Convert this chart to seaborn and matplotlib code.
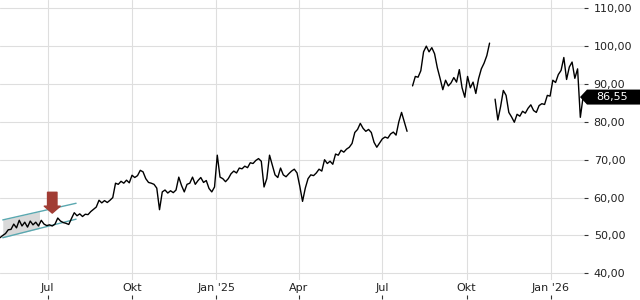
import numpy as np
import pandas as pd
import matplotlib
matplotlib.use("Agg")
import matplotlib.pyplot as plt
import matplotlib.dates as mdates
from matplotlib.patches import Polygon
from matplotlib.transforms import IdentityTransform
import seaborn as sns

nan = np.nan

# ---- data (one value every 3 calendar days) ----
start_date = "2024-05-10"
prices = [
    49.4, 50.0, 50.5, 51.5, 51.6, 53.0, 52.0, 54.0, 52.5, 53.5,
    52.2, 53.8, 52.8, 53.5, 52.5, 54.0, 53.0, 52.6, 52.8, 52.5,
    53.0, 54.6, 53.8, 53.4, 53.2, 52.9, 54.5, 56.0, 55.2, 55.7,
    55.0, 55.6, 55.5, 56.3, 56.9, 57.5, 59.3, 58.6, 59.2, 58.7,
    59.3, 60.0, 63.8, 63.5, 64.3, 63.8, 64.6, 63.9, 65.9, 65.3,
    65.8, 67.2, 66.8, 65.0, 64.0, 63.8, 63.5, 62.5, 56.8, 61.5,
    62.0, 61.2, 61.8, 61.3, 62.0, 65.4, 63.2, 61.5, 63.5, 63.8,
    65.4, 63.5, 64.5, 65.3, 64.0, 64.5, 62.4, 61.5, 62.8, 71.2,
    65.4, 65.0, 64.2, 65.0, 66.3, 67.0, 66.5, 67.8, 67.6, 68.3,
    67.9, 69.2, 69.0, 69.8, 70.3, 69.6, 62.8, 65.0, 71.2, 68.6,
    66.0, 65.3, 67.8, 66.0, 65.5, 66.3, 67.0, 67.5, 66.5, 63.0,
    59.0, 62.5, 65.0, 66.0, 65.8, 66.5, 67.5, 67.0, 70.0, 69.0,
    69.6, 68.8, 71.5, 71.2, 72.5, 72.0, 72.8, 73.3, 74.3, 77.2,
    78.0, 79.6, 78.3, 77.5, 78.0, 77.2, 74.6, 73.3, 74.4, 75.5,
    76.0, 75.7, 76.8, 77.3, 76.5, 80.0, 82.5, 80.0, 77.5, nan,
    89.5, 92.0, 91.8, 93.5, 98.5, 100.0, 98.5, 99.6, 98.0, 94.3,
    91.5, 88.5, 91.0, 89.5, 90.3, 91.7, 90.5, 93.8, 89.0, 86.5,
    92.0, 89.0, 90.5, 87.5, 91.4, 94.0, 95.5, 97.5, 100.8, nan,
    86.0, 80.5, 84.0, 88.3, 87.0, 82.5, 81.3, 79.9, 82.0, 81.5,
    82.8, 82.3, 83.6, 84.5, 83.0, 82.5, 84.3, 84.8, 84.6, 87.0,
    86.8, 91.0, 90.4, 92.5, 93.6, 97.0, 91.2, 94.5, 95.8, 91.5,
    94.0, 81.2, 86.55,
]
last_price = 86.55

x_range = ["2024-05-10", "2026-02-06"]
x_tick_dates = ["2024-07-01", "2024-10-01", "2025-01-01", "2025-04-01",
                "2025-07-01", "2025-10-01", "2026-01-01"]
x_tick_labels = ["Jul", "Okt", "Jan '25", "Apr", "Jul", "Okt", "Jan '26"]
y_ticks = [40, 50, 60, 70, 80, 90, 100, 110]
y_range = [38.23, 112.19]

# trend channel annotation
channel_dates = ["2024-05-13", "2024-08-01"]
channel_upper = [54.1, 58.5]
channel_lower = [49.4, 54.3]
shade_dates = ["2024-05-13", "2024-06-22"]
arrow_date = "2024-07-06"
arrow_tip, arrow_top = 55.9, 61.4

# ---- figure ----
sns.set_theme(style="white")
plt.rcParams['font.family'] = ['DejaVu Sans']

W, H = 640, 300
fig = plt.figure(figsize=(W / 100, H / 100), dpi=100)
ax = fig.add_axes([0, 20 / H, 584 / W, 280 / H])

dates = pd.date_range(start_date, periods=len(prices), freq="3D")
df = pd.DataFrame({"date": dates, "price": prices})
df["seg"] = df["price"].isna().cumsum()
df = df.dropna()

# shaded region and channel lines
ch_num = mdates.date2num(pd.to_datetime(channel_dates))
sh_dates = pd.to_datetime(shade_dates)
sh_num = mdates.date2num(sh_dates)
sh_up = np.interp(sh_num, ch_num, channel_upper)
sh_lo = np.interp(sh_num, ch_num, channel_lower)
ax.fill_between(sh_num, sh_lo, sh_up, color="#d9d9d9", lw=0, zorder=1)

sns.lineplot(data=df, x="date", y="price", units="seg", estimator=None,
             color="black", linewidth=1.0, ax=ax, legend=False, zorder=3)

teal = "#5aa8b0"
ax.plot(ch_num, channel_upper, color=teal, lw=1.0, zorder=2)
ax.plot(ch_num, channel_lower, color=teal, lw=1.0, zorder=2)

ad = mdates.date2num(pd.Timestamp(arrow_date))
ax.annotate("", xy=(ad, arrow_tip), xytext=(ad, arrow_top),
            arrowprops=dict(arrowstyle="simple,head_length=0.5,head_width=1.15,tail_width=0.68",
                            mutation_scale=10, color="#a13c34", shrinkA=0, shrinkB=0),
            zorder=5)

ax.set_xlim(mdates.date2num(pd.to_datetime(x_range)))
ax.set_ylim(*y_range)

xt = mdates.date2num(pd.to_datetime(x_tick_dates))
ax.set_xticks(xt)
ax.set_xticklabels(x_tick_labels)
ax.tick_params(axis='x', length=0, pad=2, labelsize=8, labelcolor="#222222")
ax.set_xlabel("")
ax.set_ylabel("")

ax.yaxis.tick_right()
ax.set_yticks(y_ticks)
ax.set_yticklabels([f"{v:.2f}".replace(".", ",") for v in y_ticks])
ax.tick_params(axis='y', right=True, left=False, length=3, width=0.8,
               color="#333333", pad=4, labelsize=8, labelcolor="#222222")

ax.grid(True, color="#dedede", lw=0.8)
ax.set_axisbelow(True)
for s in ax.spines.values():
    s.set_visible(False)

# tick marks below the date labels
secax = ax.secondary_xaxis(-19 / 280)
secax.set_xticks(xt)
secax.tick_params(axis='x', direction='in', length=3, width=0.8,
                  color="#333333", labelbottom=False)
secax.spines['bottom'].set_visible(False)

# last price tag
yp = ax.transData.transform((ax.get_xlim()[0], last_price))[1]
xr = ax.transAxes.transform((1, 0))[0]
pts = [(xr - 4, yp), (xr + 3, yp + 7.5), (W, yp + 7.5), (W, yp - 7.5), (xr + 3, yp - 7.5)]
tag = Polygon(pts, closed=True, transform=IdentityTransform(),
              facecolor="black", edgecolor="none", zorder=10)
fig.add_artist(tag)
fig.text((xr + 12) / W, yp / H, f"{last_price:.2f}".replace(".", ","),
         color="white", va="center", ha="left", fontsize=8, zorder=11)

fig.savefig("out.png", dpi=100)
